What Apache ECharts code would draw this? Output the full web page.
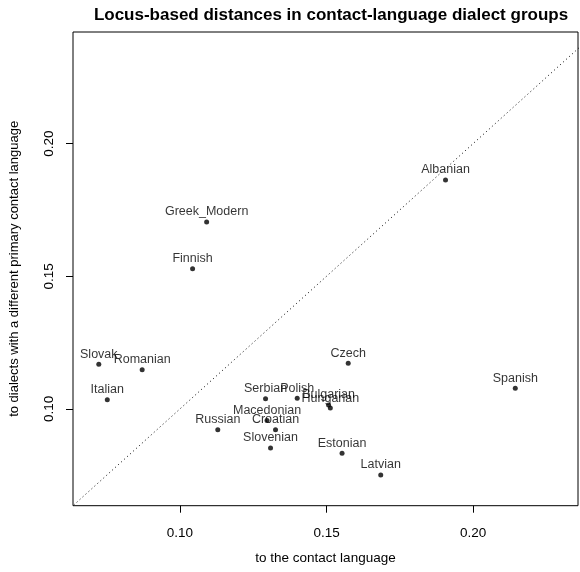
<!DOCTYPE html>
<html>
<head>
<meta charset="utf-8">
<script src="https://cdn.jsdelivr.net/npm/echarts@6/dist/echarts.min.js"></script>
<style>
  html, body { margin: 0; padding: 0; background: #fff; }
</style>
</head>
<body>
<div id="main" style="width: 580px; height: 572px"></div>
<script>
// languages and their locus-based distances
const languages = ['Albanian', 'Spanish', 'Latvian', 'Greek_Modern', 'Finnish', 'Slovak', 'Romanian', 'Italian',
  'Czech', 'Serbian', 'Polish', 'Bulgarian', 'Hungarian', 'Macedonian', 'Croatian', 'Russian', 'Slovenian', 'Estonian']
// to the contact language
const toContact = [0.1906, 0.2144, 0.1685, 0.1091, 0.1043, 0.0723, 0.0871, 0.0752,
  0.1574, 0.1292, 0.1400, 0.1507, 0.1513, 0.1297, 0.1326, 0.1129, 0.1309, 0.1553]
// to dialects with a different primary contact language
const toOther = [0.1863, 0.1078, 0.0751, 0.1705, 0.1528, 0.1168, 0.1148, 0.1034,
  0.1172, 0.1038, 0.1040, 0.1015, 0.1003, 0.0956, 0.0921, 0.0921, 0.0853, 0.0833]
const tickValues = [0.10, 0.15, 0.20]
const xRange = [0.0635, 0.2358]
const yRange = [0.0635, 0.2421]
const diagonal = [0, 0.3]

const font = 'Liberation Sans, Arial, Helvetica, sans-serif'
const chart = echarts.init(document.getElementById('main'))

chart.setOption({
  animation: false,
  title: {
    text: 'Locus-based distances in contact-language dialect groups',
    left: 326,
    textAlign: 'center',
    top: 2,
    textStyle: { fontFamily: font, fontSize: 17, fontWeight: 'bold', color: '#000' },
  },
  grid: {
    left: 70.7,
    right: 2,
    top: 32,
    bottom: 66.3,
    show: true,
    borderColor: '#000',
    borderWidth: 1,
  },
  xAxis: {
    type: 'value',
    min: xRange[0],
    max: xRange[1],
    name: 'to the contact language',
    nameLocation: 'middle',
    nameGap: 46,
    nameTextStyle: { fontFamily: font, fontSize: 13.5, color: '#000' },
    axisLine: { show: false },
    splitLine: { show: false },
    axisTick: { show: true, inside: false, length: 7, customValues: tickValues, lineStyle: { color: '#000' } },
    axisLabel: {
      customValues: tickValues,
      margin: 21,
      fontFamily: font,
      fontSize: 13.5,
      color: '#000',
      formatter: (v) => v.toFixed(2),
    },
  },
  yAxis: {
    type: 'value',
    min: yRange[0],
    max: yRange[1],
    name: 'to dialects with a different primary contact language',
    nameLocation: 'middle',
    nameGap: 52,
    nameTextStyle: { fontFamily: font, fontSize: 13, color: '#000' },
    axisLine: { show: false },
    splitLine: { show: false },
    axisTick: { show: true, inside: false, length: 7, customValues: tickValues, lineStyle: { color: '#000' } },
    axisLabel: {
      customValues: tickValues,
      rotate: 90,
      margin: 17,
      fontFamily: font,
      fontSize: 13.5,
      color: '#000',
      formatter: (v) => v.toFixed(2),
    },
  },
  series: [
    {
      type: 'line',
      data: [[diagonal[0], diagonal[0]], [diagonal[1], diagonal[1]]],
      showSymbol: false,
      clip: true,
      silent: true,
      lineStyle: { color: '#000', width: 1, type: [1, 3] },
    },
    {
      type: 'scatter',
      symbolSize: 5,
      itemStyle: { color: '#000' },
      data: languages.map((name, i) => ({ name, value: [toContact[i], toOther[i]] })),
      label: {
        show: true,
        position: 'top',
        distance: 1,
        formatter: (p) => p.name,
        fontFamily: font,
        fontSize: 12.5,
        color: '#000',
      },
    },
  ],
})
</script>
</body>
</html>
